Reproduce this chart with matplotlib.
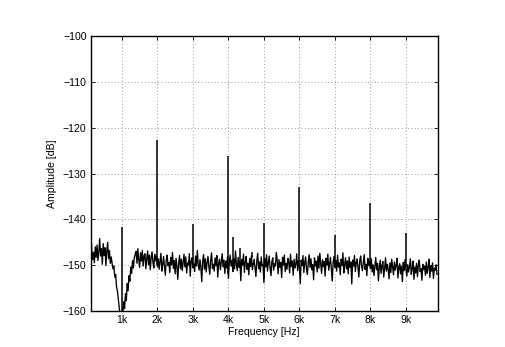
import numpy as np
import matplotlib
matplotlib.use("Agg")
import matplotlib.pyplot as plt

# ---- data ----
f_start, f_stop = 130.0, 9880.0   # Hz, first/last sample of the noise trace

noise_low = [  # 130 Hz .. ~705 Hz
    -142.0, -146.5, -148.8, -147.2, -149.5, -146.0, -148.3, -145.6, -149.0, -147.1,
    -144.2, -148.0, -146.4, -149.8, -145.3, -147.9, -146.2, -150.1, -147.0, -145.0,
    -148.6, -146.8, -149.6, -148.2]
noise_dip = [  # ~730 Hz .. ~1380 Hz
    -149.6, -150.8, -150.2, -152.6, -152.0, -154.8, -155.6, -157.5, -159.2, -161.0,
    -162.0, -161.8, -160.8, -158.0, -159.5, -156.2, -157.8, -154.0, -155.6, -152.3,
    -153.5, -150.4, -151.8, -149.0, -150.6, -148.4, -147.6]
noise_mid = [  # ~1.4 kHz .. 2 kHz
    -147.0, -149.6, -146.4, -148.8, -150.5, -147.3, -149.1, -146.8, -150.2, -148.0,
    -147.5, -150.8, -148.6, -146.9, -149.9, -147.8, -151.0, -148.3, -147.1, -149.4,
    -150.6, -147.6, -149.0, -148.1, -150.3]
noise_main = [  # ~2 kHz .. 8 kHz
    -148.6, -150.9, -149.2, -147.4, -151.3, -149.8, -148.1, -150.5, -152.2, -148.9,
    -147.8, -150.1, -149.4, -151.6, -148.3, -149.9, -147.2, -150.7, -149.0, -151.9,
    -148.5, -150.3, -153.1, -149.6, -147.9, -150.8, -148.7, -151.2, -149.3, -147.6,
    -150.4, -148.2, -151.7, -149.5, -150.0, -147.5, -152.4, -149.1, -148.4, -150.6,
    -149.7, -151.4, -148.0, -150.2, -146.8, -149.9, -151.1, -148.8, -150.5, -153.6,
    -149.2, -147.7, -150.9, -148.6, -151.5, -149.4, -148.1, -150.3, -152.0, -149.0,
    -147.3, -150.7, -149.8, -151.3, -148.4, -150.1, -147.9, -152.6, -149.6, -148.7,
    -151.0, -149.3, -147.5, -150.4, -148.9, -151.8, -149.1, -150.6, -148.2, -152.9,
    -149.5, -147.8, -150.2, -149.0, -151.4, -148.6, -150.8, -146.9, -149.7, -151.2,
    -148.3, -150.5, -149.2, -153.4, -148.8, -150.0, -147.6, -151.6, -149.4, -148.1,
    -150.9, -149.6, -152.1, -148.5, -150.3, -147.9, -151.0, -149.8, -148.7, -150.6,
    -152.5, -149.1, -147.4, -150.8, -149.3, -151.5, -148.2, -150.1, -149.9, -153.8,
    -148.6, -150.4, -147.7, -151.3, -149.5, -148.0, -150.7, -152.3, -149.2, -148.4,
    -151.1, -149.7, -150.2, -147.2, -149.0, -151.9, -148.8, -150.5, -149.4, -152.7,
    -148.3, -150.0, -147.8, -151.4, -149.6, -150.9, -148.5, -149.3, -151.7, -147.6,
    -150.3, -149.1, -152.2, -148.7, -150.6, -149.8, -147.5, -151.2, -149.0, -150.4,
    -154.0, -148.9, -150.1, -147.9, -151.6, -149.5, -148.2, -150.8, -152.0, -149.3,
    -147.7, -150.5, -148.6, -151.0, -149.9, -153.2, -148.4, -150.2, -149.1, -151.5,
    -148.0, -150.7, -147.4, -149.6, -151.8, -148.8, -150.3, -149.2, -152.4, -148.5,
    -150.0, -147.6, -151.1, -149.7, -148.3, -150.9, -153.5, -149.4, -148.1, -150.6,
    -149.0, -151.3, -147.8, -150.4, -149.5, -152.1, -148.7, -150.1, -147.3, -151.7,
    -149.8, -148.4, -150.8, -149.1, -151.9, -148.2, -150.5, -149.3, -154.1, -148.9,
    -150.2, -147.9, -151.4, -149.6, -148.6, -150.7, -152.6, -149.0, -148.0, -150.3,
    -151.2, -149.4, -147.7, -150.9, -149.8, -152.3, -148.5, -150.0, -149.2]
noise_high = [  # ~8 kHz .. 9.9 kHz
    -150.8, -148.6, -151.5, -149.9, -152.3, -150.2, -148.3, -151.0, -149.6, -153.4,
    -150.5, -148.9, -151.8, -150.1, -149.2, -152.6, -150.7, -148.4, -151.3, -149.8,
    -150.9, -153.0, -149.5, -151.6, -148.7, -150.4, -152.1, -149.3, -151.1, -150.0,
    -148.5, -152.8, -150.6, -149.7, -151.9, -150.2, -153.6, -149.4, -151.2, -148.8,
    -150.9, -152.4, -149.9, -151.5, -150.3, -148.6, -152.0, -150.8, -149.1, -153.1,
    -150.4, -151.7, -149.6, -152.5, -150.0, -148.9, -151.4, -150.7, -153.3, -149.8,
    -151.0, -150.2, -152.2, -149.3, -151.8, -150.5, -148.7, -152.7, -150.1, -151.3,
    -149.5, -152.9, -150.6, -151.1, -149.9, -152.0]

spike_freqs = [1000, 2000, 3000, 4000, 4130, 4330, 4660, 5000, 6000, 7000, 8000, 9000]
spike_levels = [-141.6, -122.7, -141.0, -126.1, -143.9, -146.2, -147.2, -140.8,
                -132.9, -143.5, -136.4, -143.0]

xtick_vals = [1000, 2000, 3000, 4000, 5000, 6000, 7000, 8000, 9000]
xtick_labels = ["1k", "2k", "3k", "4k", "5k", "6k", "7k", "8k", "9k"]
ytick_vals = [-160, -150, -140, -130, -120, -110, -100]

# ---- figure ----
plt.rcParams['font.family'] = ['Liberation Sans', 'DejaVu Sans']
plt.rcParams['axes.unicode_minus'] = True

noise = np.array(noise_low + noise_dip + noise_mid + noise_main + noise_high)
freqs = np.linspace(f_start, f_stop, len(noise))

fig = plt.figure(figsize=(5.05, 3.47), dpi=100)
ax = fig.add_axes([90.7 / 505, 1 - 311 / 347, (437.7 - 90.7) / 505, (311 - 36) / 347])

ax.plot(freqs, noise, color='k', lw=0.95)
base = np.interp(spike_freqs, freqs, noise)
ax.vlines(spike_freqs, base, spike_levels, color='k', lw=1.1)

ax.set_xlim(127, 9900)
ax.set_ylim(-160, -100)
ax.set_xticks(xtick_vals)
ax.set_xticklabels(xtick_labels)
ax.set_yticks(ytick_vals)
ax.grid(True, color='#777777', linestyle=(0, (1, 3)), lw=0.6)
ax.tick_params(direction='in', top=True, right=True, labelsize=7.6, length=3, width=0.6, pad=3)
for s in ax.spines.values():
    s.set_linewidth(1.0)
ax.set_xlabel("Frequency [Hz]", fontsize=7.6, labelpad=1)
ax.set_ylabel("Amplitude [dB]", fontsize=7.6, labelpad=4)

fig.savefig("out.png", dpi=100)
